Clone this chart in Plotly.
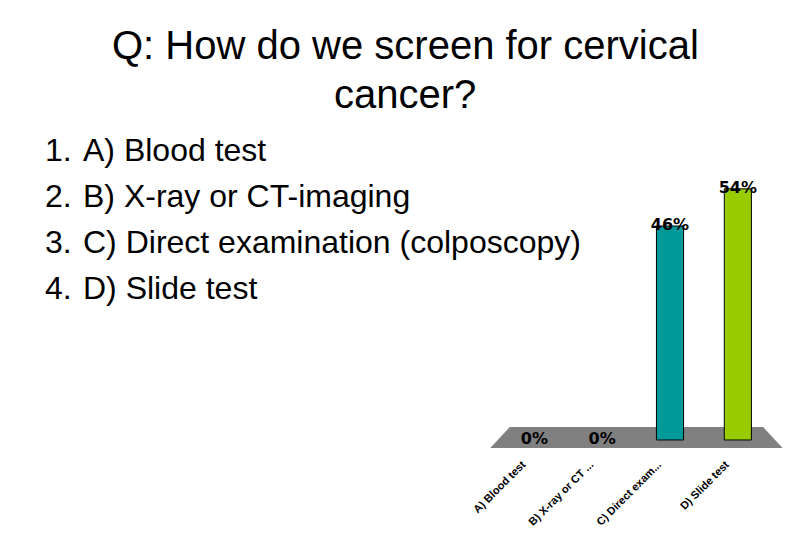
import plotly.graph_objects as go

# poll question and answers
title_lines = ["Q: How do we screen for cervical", "cancer?"]
option_numbers = ["1.", "2.", "3.", "4."]
option_texts = ["A) Blood test", "B) X-ray or CT-imaging",
                "C) Direct examination (colposcopy)", "D) Slide test"]

# chart data
categories = ["A) Blood test", "B) X-ray or CT ...", "C) Direct exam...", "D) Slide test"]
percent = [0, 0, 46, 54]
bar_colors = ["#A9BFC0", "#333399", "#009999", "#99CC00"]

fig = go.Figure()

fig.add_trace(go.Bar(
    x=categories,
    y=percent,
    marker=dict(color=bar_colors,
                line=dict(color="black", width=[0 if v == 0 else 1 for v in percent])),
    width=0.4,
    hoverinfo="skip",
))

# percentage labels sitting on the bar tops
fig.add_trace(go.Scatter(
    x=categories,
    y=percent,
    mode="text",
    text=[f"{v}%" for v in percent],
    textposition="middle center",
    cliponaxis=False,
    textfont=dict(family="DejaVu Sans", size=16, color="black", weight="bold"),
    hoverinfo="skip",
))

# gray floor under the bars
fig.add_shape(
    type="path",
    xref="paper", yref="paper",
    path="M 0.6210 0.2093 L 0.9407 0.2093 L 0.9654 0.1704 L 0.5963 0.1704 Z",
    fillcolor="#808080", line=dict(width=0), layer="below",
)

annotations = []
for i, line in enumerate(title_lines):
    annotations.append(dict(
        text=line, x=396, y=45 + 49 * i,
        showarrow=False, xanchor="center", yanchor="middle",
        font=dict(family="Liberation Sans, Arial", size=40, color="black"),
    ))
for i, (num, txt) in enumerate(zip(option_numbers, option_texts)):
    annotations.append(dict(
        text=num, x=26, y=150 + 46 * i, showarrow=False,
        xanchor="left", yanchor="middle",
        font=dict(family="Liberation Sans, Arial", size=32, color="black"),
    ))
    annotations.append(dict(
        text=txt, x=64, y=150 + 46 * i, showarrow=False,
        xanchor="left", yanchor="middle",
        font=dict(family="Liberation Sans, Arial", size=32, color="black"),
    ))
# convert pixel positions to paper coordinates
for a in annotations:
    a["xref"] = "paper"
    a["yref"] = "paper"
    a["x"] = a["x"] / 810
    a["y"] = 1 - a["y"] / 540

fig.update_layout(
    width=810, height=540,
    margin=dict(l=0, r=0, t=0, b=0),
    paper_bgcolor="white", plot_bgcolor="rgba(0,0,0,0)",
    showlegend=False,
    annotations=annotations,
    xaxis=dict(
        domain=[0.5963, 0.9654],
        range=[-0.65, 3.66],
        tickangle=-45,
        ticklabelshift=-12,
        ticklabelstandoff=7,
        showline=False, showgrid=False, zeroline=False, ticks="",
        tickfont=dict(family="Liberation Sans, Arial", size=11, color="black", weight="bold"),
    ),
    yaxis=dict(
        domain=[0.1704, 1],
        range=[-1.72, 94.6],
        visible=False,
    ),
)

fig.write_html("out.html", config={"displayModeBar": False},
               post_script="document.body.style.margin='0';")
